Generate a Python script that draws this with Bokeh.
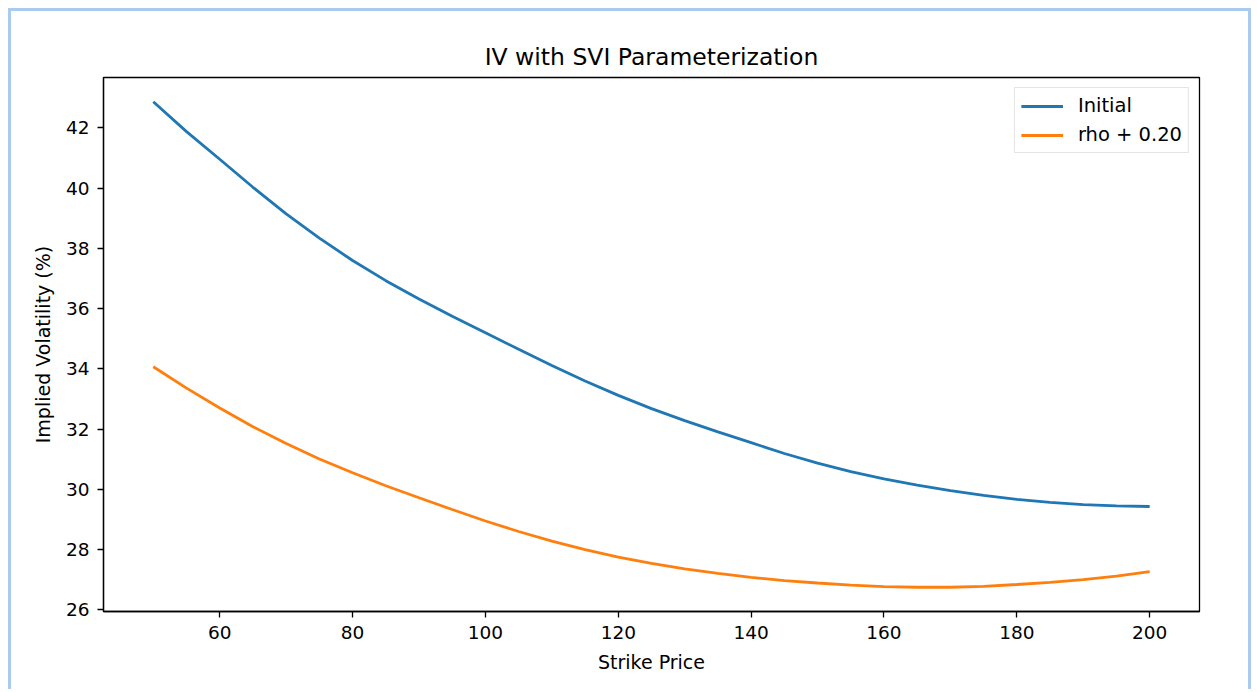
from bokeh.plotting import figure
from bokeh.models import Range1d, FixedTicker, Legend, LegendItem
from bokeh.embed import file_html
from bokeh.resources import INLINE

# ---- data ----
strikes = [50, 55, 60, 65, 70, 75, 80, 85, 90, 95, 100, 105, 110, 115, 120, 125,
           130, 135, 140, 145, 150, 155, 160, 165, 170, 175, 180, 185, 190, 195, 200]
iv_initial = [42.87, 41.88, 40.96, 40.03, 39.15, 38.34, 37.60, 36.93, 36.32, 35.75,
              35.20, 34.65, 34.11, 33.60, 33.12, 32.68, 32.28, 31.91, 31.55, 31.19,
              30.87, 30.59, 30.35, 30.14, 29.96, 29.80, 29.67, 29.57, 29.49, 29.45, 29.43]
iv_rho = [34.07, 33.36, 32.70, 32.08, 31.52, 31.01, 30.55, 30.12, 29.72, 29.33,
          28.95, 28.60, 28.28, 28.00, 27.75, 27.54, 27.36, 27.21, 27.08, 26.97,
          26.89, 26.82, 26.77, 26.75, 26.75, 26.78, 26.84, 26.91, 27.00, 27.12, 27.27]
series_labels = ["Initial", "rho + 0.20"]
x_ticks = [60, 80, 100, 120, 140, 160, 180, 200]
y_ticks = [26, 28, 30, 32, 34, 36, 38, 40, 42]

FONT = "DejaVu Sans"

# matplotlib-like 5% autoscale margins
xmin, xmax = min(strikes), max(strikes)
ymin = min(min(iv_initial), min(iv_rho))
ymax = max(max(iv_initial), max(iv_rho))
xpad = 0.05 * (xmax - xmin)
ypad = 0.05 * (ymax - ymin)

p = figure(width=1243, height=681, output_backend="svg", toolbar_location=None,
           x_range=Range1d(xmin - xpad, xmax + xpad),
           y_range=Range1d(ymin - ypad, ymax + ypad),
           min_border_left=92, min_border_right=55,
           min_border_top=66, min_border_bottom=81,
           title="IV with SVI Parameterization")

p.styles = {"margin-left": "8px",
            "margin-top": "8px",
            "border-top": "3px solid #a9cbef",
            "border-left": "3px solid #a9cbef",
            "border-right": "3px solid #a9cbef"}

p.background_fill_color = "white"
p.border_fill_color = "white"
p.outline_line_color = "black"
p.outline_line_width = 1.3
p.xgrid.visible = False
p.ygrid.visible = False

p.title.text_font = FONT
p.title.text_font_size = "23.5px"
p.title.text_font_style = "normal"
p.title.align = "center"
p.title.text_color = "black"
p.title.standoff = 13

for ax in (p.xaxis[0], p.yaxis[0]):
    ax.axis_line_color = "black"
    ax.axis_line_width = 1.3
    ax.major_tick_line_color = "black"
    ax.major_tick_line_width = 1.3
    ax.major_tick_out = 6
    ax.major_tick_in = 0
    ax.minor_tick_out = 0
    ax.minor_tick_in = 0
    ax.major_label_text_font = FONT
    ax.major_label_text_font_size = "18.5px"
    ax.major_label_text_color = "black"
    ax.axis_label_text_font = FONT
    ax.axis_label_text_font_size = "19px"
    ax.axis_label_text_font_style = "normal"
    ax.axis_label_text_color = "black"

p.xaxis[0].ticker = FixedTicker(ticks=x_ticks)
p.yaxis[0].ticker = FixedTicker(ticks=y_ticks)
p.xaxis[0].axis_label = "Strike Price"
p.yaxis[0].axis_label = "Implied Volatility (%)"
p.xaxis[0].major_label_standoff = 8
p.yaxis[0].major_label_standoff = 8
p.xaxis[0].axis_label_standoff = 9
p.yaxis[0].axis_label_standoff = 9

r1 = p.line(strikes, iv_initial, line_color="#1f77b4", line_width=2.8)
r2 = p.line(strikes, iv_rho, line_color="#ff7f0e", line_width=2.8)

legend = Legend(items=[LegendItem(label=series_labels[0], renderers=[r1]),
                       LegendItem(label=series_labels[1], renderers=[r2])],
                location="top_right")
legend.margin = 10
legend.padding = 6
legend.spacing = 6
legend.glyph_width = 42
legend.glyph_height = 20
legend.label_height = 20
legend.label_standoff = 15
legend.label_text_font = FONT
legend.label_text_font_size = "19.5px"
legend.label_text_color = "black"
legend.border_line_color = "#cccccc"
legend.border_line_width = 1
legend.background_fill_alpha = 0.8
p.add_layout(legend, "center")

open("out.html", "w").write(file_html(p, INLINE))
